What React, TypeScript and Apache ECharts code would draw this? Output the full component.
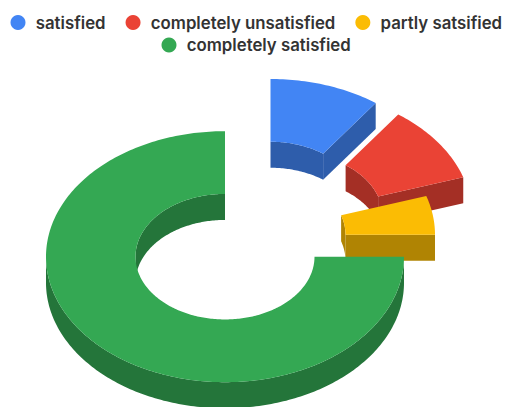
import React, { useEffect, useRef } from "react";
import * as echarts from "echarts";

const categories = ["satisfied", "completely unsatisfied", "partly satsified", "completely satisfied"];
const values = [10, 10, 5, 75];
const colors = ["#4285f4", "#ea4335", "#fbbc04", "#34a853"];
const wallColors = ["#2e5dab", "#a42f25", "#b08403", "#24753a"];
// Centre of each exploded slice on the page (layout, not data)
const centers = [[270.5, 204.5], [293, 216], [256, 234.7], [225, 256.7]];
const drawOrder = [1, 2, 3, 4];

const RX = 179;
const RY = 125.5;
const HOLE = 0.5;
const DEPTH = 26;
const total = values.reduce((a, b) => a + b, 0);
const startAngles = values.map((_, i) => (values.slice(0, i).reduce((a, b) => a + b, 0) / total) * 360);

function point(c: number[], frac: number, deg: number, dy = 0): number[] {
  const t = (deg * Math.PI) / 180;
  return [c[0] + RX * frac * Math.sin(t), c[1] - RY * frac * Math.cos(t) + dy];
}
function arc(c: number[], frac: number, a: number, b: number, dy = 0): number[][] {
  const n = Math.max(2, Math.ceil(Math.abs(b - a)));
  const out: number[][] = [];
  for (let i = 0; i <= n; i++) out.push(point(c, frac, a + ((b - a) * i) / n, dy));
  return out;
}
function wall(c: number[], frac: number, a: number, b: number, ranges: number[][], fill: string) {
  const parts: any[] = [];
  for (const [lo, hi] of ranges) {
    const s = Math.max(a, lo);
    const e = Math.min(b, hi);
    if (e > s) {
      parts.push({
        type: "polygon",
        shape: { points: [...arc(c, frac, s, e), ...arc(c, frac, e, s, DEPTH)] },
        style: { fill },
      });
    }
  }
  return parts;
}
function cut(c: number[], deg: number, fill: string) {
  return {
    type: "polygon",
    shape: {
      points: [point(c, HOLE, deg), point(c, 1, deg), point(c, 1, deg, DEPTH), point(c, HOLE, deg, DEPTH)],
    },
    style: { fill },
  };
}

function sliceRenderer(i: number) {
  return (_params: any, api: any) => {
    const a = startAngles[i];
    const b = a + (api.value(0) / total) * 360;
    const c = centers[i];
    const children: any[] = [];
    const wc = wallColors[i];
    children.push(...wall(c, HOLE, a, b, [[-90, 90], [270, 450]], wc));
    children.push(...wall(c, 1, a, b, [[90, 270]], wc));
    if (Math.sin((b * Math.PI) / 180) > 0.001) children.push(cut(c, b, wc));
    if (Math.sin((a * Math.PI) / 180) < -0.001) children.push(cut(c, a, wc));
    children.push({
      type: "polygon",
      shape: { points: [...arc(c, 1, a, b), ...arc(c, HOLE, b, a)] },
      style: { fill: colors[i] },
    });
    return { type: "group", children };
  };
}

const legendText = { fontFamily: "Inter", fontWeight: 600, fontSize: 16.8, color: "#333333" };

export default function App() {
  const ref = useRef<HTMLDivElement>(null);
  useEffect(() => {
    document.body.style.margin = "0";
    const chart = echarts.init(ref.current!, null, { renderer: "svg" });
    const base = {
      orient: "horizontal",
      icon: "circle",
      itemWidth: 25.5,
      itemHeight: 15,
      itemGap: 20,
      padding: 0,
      width: 495,
      selectedMode: false,
      textStyle: legendText,
    };
    chart.setOption({
      animation: false,
      legend: [
        { ...base, left: 10.5, top: 14, data: categories.slice(0, 3) },
        { ...base, left: 161.5, top: 36.5, width: 340, data: categories.slice(3) },
      ],
      series: categories.map((name, i) => ({
        type: "custom",
        name,
        coordinateSystem: "none",
        silent: true,
        z: drawOrder[i],
        itemStyle: { color: colors[i] },
        data: [[values[i]]],
        renderItem: sliceRenderer(i),
      })),
    });
    return () => chart.dispose();
  }, []);
  return <div ref={ref} style={{ position: "absolute", left: 0, top: 0, width: 506, height: 407 }} />;
}
